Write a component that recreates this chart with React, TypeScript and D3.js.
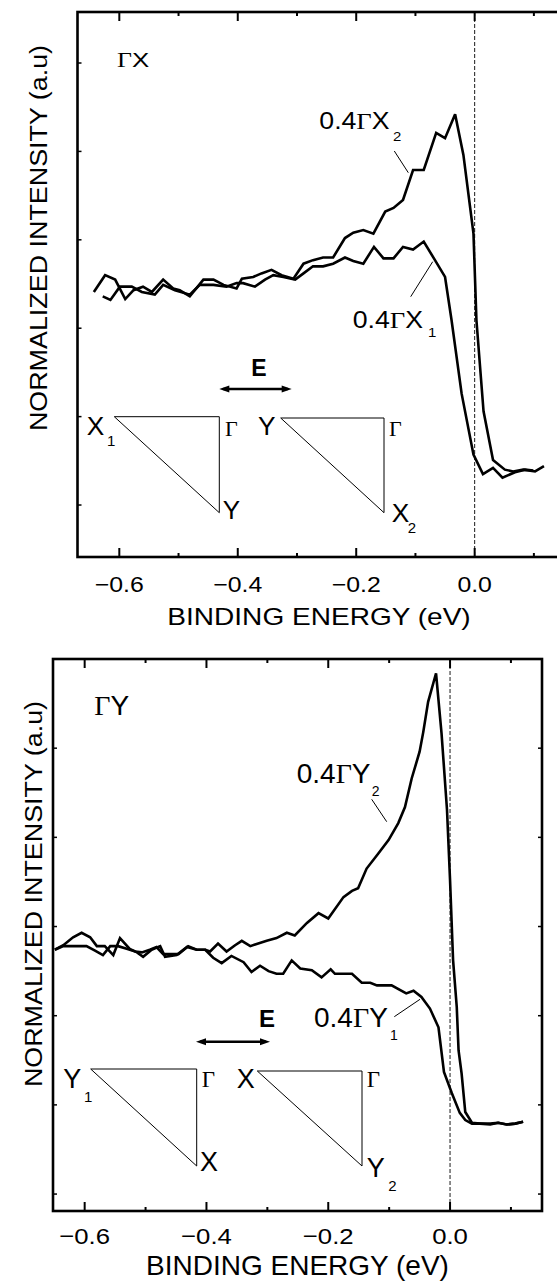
import React from "react";
import * as d3 from "d3";

// ---- data (binding energy in eV, normalized intensity in a.u.) ----
const gammaX1: [number, number][] = [
  [-0.628, 2.36], [-0.615, 2.32], [-0.599, 2.47], [-0.579, 2.47], [-0.562, 2.41], [-0.54, 2.38],
  [-0.526, 2.49], [-0.506, 2.43], [-0.481, 2.38], [-0.464, 2.49], [-0.441, 2.49], [-0.419, 2.47],
  [-0.402, 2.51], [-0.391, 2.51], [-0.371, 2.47], [-0.354, 2.55], [-0.34, 2.6], [-0.323, 2.58],
  [-0.303, 2.55], [-0.289, 2.62], [-0.273, 2.7], [-0.256, 2.7], [-0.239, 2.73], [-0.219, 2.8],
  [-0.205, 2.76], [-0.188, 2.73], [-0.17, 2.92], [-0.154, 2.79], [-0.137, 2.79], [-0.121, 2.92],
  [-0.104, 2.89], [-0.086, 2.98], [-0.067, 2.77], [-0.05, 2.58], [-0.039, 2.09], [-0.022, 1.26],
  [-0.002, 0.57], [0.014, 0.35], [0.031, 0.42], [0.047, 0.31], [0.068, 0.37], [0.085, 0.4], [0.099, 0.39],
];
const gammaX2: [number, number][] = [
  [-0.643, 2.41], [-0.624, 2.6], [-0.607, 2.55], [-0.59, 2.33], [-0.576, 2.43], [-0.56, 2.47],
  [-0.545, 2.41], [-0.526, 2.55], [-0.509, 2.45], [-0.498, 2.43], [-0.481, 2.36], [-0.458, 2.55],
  [-0.441, 2.55], [-0.424, 2.49], [-0.402, 2.45], [-0.393, 2.56], [-0.374, 2.58], [-0.36, 2.62],
  [-0.343, 2.66], [-0.326, 2.6], [-0.306, 2.56], [-0.289, 2.73], [-0.273, 2.77], [-0.256, 2.8],
  [-0.239, 2.8], [-0.219, 3.02], [-0.205, 3.08], [-0.188, 3.11], [-0.171, 3.07], [-0.151, 3.32],
  [-0.137, 3.36], [-0.121, 3.45], [-0.104, 3.79], [-0.086, 3.79], [-0.065, 4.21], [-0.05, 4.15],
  [-0.033, 4.42], [-0.019, 3.96], [-0.002, 3.07], [0.003, 2.09], [0.015, 1.06], [0.031, 0.51],
  [0.051, 0.4], [0.065, 0.38], [0.082, 0.4], [0.102, 0.38], [0.117, 0.44],
];
const gammaY1: [number, number][] = [
  [-0.649, 2.74], [-0.635, 2.79], [-0.619, 2.88], [-0.605, 2.93], [-0.591, 2.88], [-0.58, 2.78],
  [-0.567, 2.78], [-0.553, 2.68], [-0.542, 2.87], [-0.526, 2.75], [-0.514, 2.71], [-0.504, 2.66],
  [-0.49, 2.74], [-0.476, 2.78], [-0.468, 2.66], [-0.449, 2.68], [-0.432, 2.77], [-0.416, 2.74],
  [-0.402, 2.74], [-0.389, 2.65], [-0.375, 2.59], [-0.359, 2.67], [-0.339, 2.6], [-0.326, 2.49],
  [-0.312, 2.56], [-0.298, 2.5], [-0.285, 2.47], [-0.274, 2.47], [-0.26, 2.62], [-0.246, 2.53],
  [-0.227, 2.51], [-0.211, 2.43], [-0.196, 2.52], [-0.189, 2.47], [-0.161, 2.47], [-0.145, 2.37],
  [-0.131, 2.37], [-0.12, 2.34], [-0.096, 2.34], [-0.072, 2.25], [-0.06, 2.28], [-0.047, 2.21],
  [-0.033, 2.08], [-0.019, 1.87], [-0.01, 1.37], [0.003, 1.13], [0.016, 0.91], [0.025, 0.83],
  [0.036, 0.79], [0.049, 0.79], [0.066, 0.78], [0.079, 0.8], [0.093, 0.78], [0.107, 0.79], [0.12, 0.81],
];
const gammaY2: [number, number][] = [
  [-0.649, 2.74], [-0.635, 2.78], [-0.597, 2.78], [-0.583, 2.73], [-0.57, 2.68], [-0.558, 2.78],
  [-0.545, 2.78], [-0.531, 2.75], [-0.517, 2.72], [-0.506, 2.71], [-0.493, 2.74], [-0.482, 2.77],
  [-0.471, 2.69], [-0.446, 2.69], [-0.43, 2.78], [-0.416, 2.74], [-0.402, 2.74], [-0.394, 2.72],
  [-0.381, 2.81], [-0.367, 2.72], [-0.353, 2.79], [-0.342, 2.84], [-0.328, 2.78], [-0.315, 2.81],
  [-0.301, 2.84], [-0.285, 2.87], [-0.268, 2.93], [-0.255, 2.9], [-0.235, 3.04], [-0.216, 3.15],
  [-0.2, 3.09], [-0.175, 3.33], [-0.161, 3.4], [-0.151, 3.43], [-0.137, 3.65], [-0.12, 3.8],
  [-0.101, 3.97], [-0.085, 4.16], [-0.074, 4.34], [-0.063, 4.66], [-0.05, 4.96], [-0.044, 5.18],
  [-0.036, 5.52], [-0.023, 5.84], [-0.014, 5.17], [-0.005, 4.31], [0.0, 3.52], [0.005, 2.62],
  [0.011, 2.1], [0.014, 1.61], [0.019, 1.35], [0.025, 0.92], [0.036, 0.8], [0.049, 0.79],
  [0.066, 0.79], [0.079, 0.8], [0.093, 0.78], [0.107, 0.79], [0.12, 0.81],
];
const majorTicks = [-0.6, -0.4, -0.2, 0.0];
const minorTicks = [-0.5, -0.3, -0.1, 0.1];
const yTicks = [0, 1, 2, 3, 4, 5];

const SANS = "'Liberation Sans', Arial, Helvetica, sans-serif";
const SERIF = "'Liberation Serif', 'Times New Roman', serif";

type TP = {
  x: number; y: number; size: number; sx?: number; anchor?: string; weight?: string;
  rotate?: number; family?: string; children: React.ReactNode;
};
function T({ x, y, size, sx = 1, anchor = "start", weight, rotate, family = SANS, children }: TP) {
  const tr = `translate(${x},${y})${rotate ? ` rotate(${rotate})` : ""} scale(${sx},1)`;
  return (
    <text transform={tr} fontSize={size} textAnchor={anchor as any} fontFamily={family} fontWeight={weight} fill="#000">
      {children}
    </text>
  );
}
const G = () => <tspan fontFamily={SERIF}>Γ</tspan>;

function Tri({ pts }: { pts: [number, number][] }) {
  return <polygon points={pts.map((p) => p.join(",")).join(" ")} fill="none" stroke="#000" strokeWidth={1} />;
}

function Arrow({ x1, x2, y }: { x1: number; x2: number; y: number }) {
  const L = 10, W = 3.5;
  return (
    <g>
      <line x1={x1 + 4} x2={x2 - 4} y1={y} y2={y} stroke="#000" strokeWidth={2.5} />
      <polygon points={`${x1},${y} ${x1 + L},${y - W} ${x1 + L},${y + W}`} fill="#000" />
      <polygon points={`${x2},${y} ${x2 - L},${y - W} ${x2 - L},${y + W}`} fill="#000" />
    </g>
  );
}

type PanelCfg = {
  xd: [number, number]; xr: [number, number]; yd: [number, number]; yr: [number, number];
  series: [number, number][][]; rightTicks: boolean; labY: number; labSize: number; labSx: number;
};
function Frame({ cfg }: { cfg: PanelCfg }) {
  const x = d3.scaleLinear().domain(cfg.xd).range(cfg.xr);
  const y = d3.scaleLinear().domain(cfg.yd).range(cfg.yr);
  const line = d3.line<[number, number]>().x((d) => x(d[0])).y((d) => y(d[1]));
  const [L, R] = cfg.xr;
  const [B, Tp] = cfg.yr;
  return (
    <g>
      <line x1={x(0)} x2={x(0)} y1={Tp} y2={B} stroke="#000" strokeWidth={0.9} strokeDasharray="4,2" />
      {cfg.series.map((s, i) => (
        <path key={i} d={line(s) || ""} fill="none" stroke="#000" strokeWidth={2.6} strokeLinejoin="miter" strokeMiterlimit={3} />
      ))}
      <rect x={L} y={Tp} width={R - L} height={B - Tp} fill="none" stroke="#000" strokeWidth={2.6} />
      {majorTicks.map((t) => (
        <g key={"M" + t}>
          <line x1={x(t)} x2={x(t)} y1={B} y2={B - 9} stroke="#000" strokeWidth={2} />
          <line x1={x(t)} x2={x(t)} y1={Tp} y2={Tp + 9} stroke="#000" strokeWidth={2} />
        </g>
      ))}
      {minorTicks.map((t) => (
        <g key={"m" + t}>
          <line x1={x(t)} x2={x(t)} y1={B} y2={B - 4} stroke="#000" strokeWidth={2} />
          <line x1={x(t)} x2={x(t)} y1={Tp} y2={Tp + 4} stroke="#000" strokeWidth={2} />
        </g>
      ))}
      {yTicks.map((t) => (
        <g key={"y" + t}>
          <line x1={L} x2={L + 4} y1={y(t)} y2={y(t)} stroke="#000" strokeWidth={1.5} />
          {cfg.rightTicks && <line x1={R} x2={R - 4} y1={y(t)} y2={y(t)} stroke="#000" strokeWidth={1.5} />}
        </g>
      ))}
      {majorTicks.map((t) => {
        const s = d3.format(".1f")(t);
        return (
          <T key={"l" + t} x={x(t)} y={cfg.labY} size={cfg.labSize} sx={cfg.labSx} anchor="middle">
            {s.startsWith("-") ? (<>-<tspan dx={2}>{s.slice(1)}</tspan></>) : s}
          </T>
        );
      })}
    </g>
  );
}

const topCfg: PanelCfg = {
  xd: [-0.6706, 0.15], xr: [77.5, 563.5], yd: [-0.588, 5.577], yr: [557, 12],
  series: [gammaX1, gammaX2], rightTicks: false, labY: 591.7, labSize: 22, labSx: 1.13,
};
const botCfg: PanelCfg = {
  xd: [-0.652, 0.151], xr: [53, 542], yd: [-0.19, 6.0], yr: [1211, 659],
  series: [gammaY1, gammaY2], rightTicks: true, labY: 1244, labSize: 23, labSx: 1.12,
};

export default function App() {
  return (
    <svg width={557} height={1288} style={{ position: "absolute", left: 0, top: 0, background: "#fff" }}>
      <rect width={557} height={1288} fill="#fff" />
      {/* ---------- top panel ---------- */}
      <Frame cfg={topCfg} />
      <T x={117} y={66.7} size={21} sx={1.23}><G />X</T>
      <T x={319.3} y={129.3} size={23} sx={1.16}>0.4<G />X</T>
      <T x={393} y={140.5} size={13} sx={1.15}>2</T>
      <line x1={394.3} y1={151} x2={408.3} y2={172.7} stroke="#000" strokeWidth={1} />
      <T x={352.7} y={328.3} size={23} sx={1.16}>0.4<G />X</T>
      <T x={428} y={337} size={13} sx={1.15}>1</T>
      <line x1={410.7} y1={296.7} x2={432.7} y2={261.7} stroke="#000" strokeWidth={1} />
      <T x={259} y={376} size={23} weight="bold" anchor="middle">E</T>
      <Arrow x1={219.3} x2={291.7} y={389} />
      <Tri pts={[[114.3, 416.7], [219.3, 416.7], [219.3, 512.7]]} />
      <T x={86.7} y={435} size={25} sx={1.05}>X</T>
      <T x={107} y={445.7} size={15}>1</T>
      <T x={225} y={436} size={22} family={SERIF}>Γ</T>
      <T x={222.7} y={519.3} size={26}>Y</T>
      <Tri pts={[[280.7, 418], [384, 418], [384, 512.7]]} />
      <T x={258} y={435} size={25} sx={1.05}>Y</T>
      <T x={389} y={436} size={22} family={SERIF}>Γ</T>
      <T x={391.7} y={521.7} size={25} sx={1.05}>X</T>
      <T x={407.7} y={533.3} size={15}>2</T>
      <T x={319} y={625} size={23} sx={1.22} anchor="middle">BINDING ENERGY (eV)</T>
      <T x={47} y={238} size={24} sx={1.12} anchor="middle" rotate={-90}>NORMALIZED INTENSITY (a.u)</T>

      {/* ---------- bottom panel ---------- */}
      <Frame cfg={botCfg} />
      <T x={94.3} y={715} size={28}><G />Y</T>
      <T x={296.7} y={782.7} size={28}>0.4<G />Y</T>
      <T x={371.7} y={795.7} size={14}>2</T>
      <line x1={371.7} y1={799.3} x2={386.7} y2={821.7} stroke="#000" strokeWidth={1} />
      <T x={314} y={1026.7} size={28}>0.4<G />Y</T>
      <T x={390} y={1040} size={14}>1</T>
      <line x1={394.3} y1={1016.7} x2={420} y2={999.3} stroke="#000" strokeWidth={1} />
      <T x={267} y={1027.3} size={24} weight="bold" anchor="middle">E</T>
      <Arrow x1={196} x2={270} y={1041.7} />
      <Tri pts={[[90.7, 1069], [196.7, 1069], [196.7, 1166]]} />
      <T x={63.3} y={1088.3} size={27}>Y</T>
      <T x={84} y={1101.7} size={15}>1</T>
      <T x={201.7} y={1086.7} size={23} family={SERIF}>Γ</T>
      <T x={200} y={1170.7} size={27}>X</T>
      <Tri pts={[[257.3, 1071], [362, 1071], [362, 1166]]} />
      <T x={236.7} y={1088.3} size={27}>X</T>
      <T x={366.7} y={1086.7} size={23} family={SERIF}>Γ</T>
      <T x={366.7} y={1176.7} size={27}>Y</T>
      <T x={388.3} y={1190.7} size={15}>2</T>
      <T x={297.5} y={1275} size={28} anchor="middle">BINDING ENERGY (eV)</T>
      <T x={42} y={894} size={24} sx={1.12} anchor="middle" rotate={-90}>NORMALIZED INTENSITY (a.u)</T>
    </svg>
  );
}
